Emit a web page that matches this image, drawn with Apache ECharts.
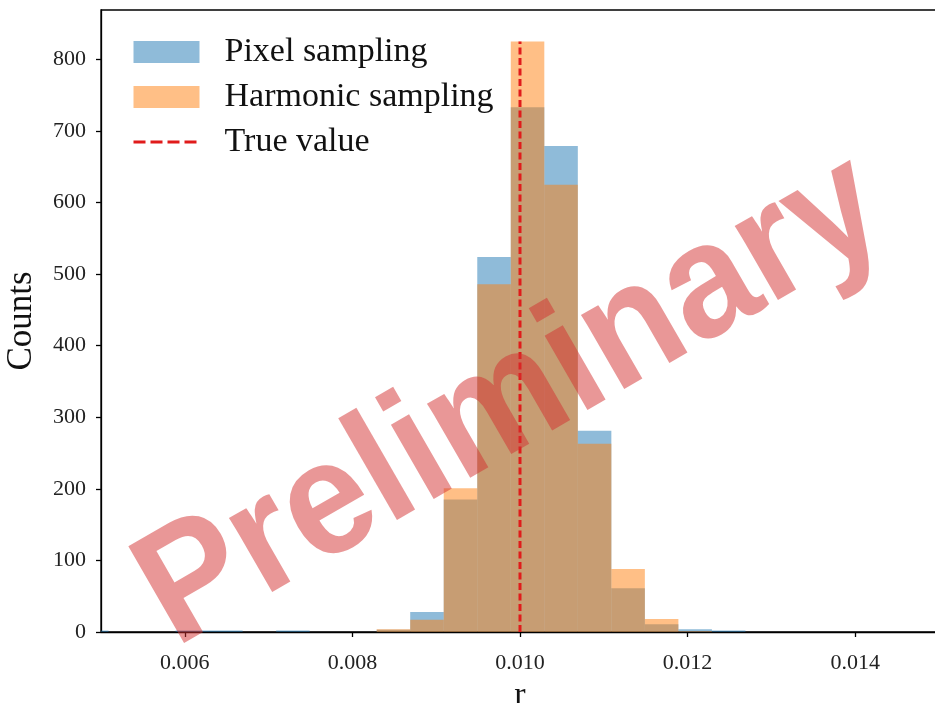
<!DOCTYPE html>
<html>
<head>
<meta charset="utf-8">
<script src="https://cdn.jsdelivr.net/npm/echarts@6/dist/echarts.min.js"></script>
<style>
  html, body { margin: 0; padding: 0; background: #fff; }
  #chart { width: 935px; height: 703px; }
</style>
</head>
<body>
<div id="chart"></div>
<script>
// histogram bins (edges in r) and counts per bin
const binEdges = [0.00469, 0.00509, 0.00549, 0.00589, 0.00629, 0.00669, 0.00709,
  0.00749, 0.00789, 0.00829, 0.00869, 0.00909, 0.00949, 0.00989, 0.01029,
  0.01069, 0.01109, 0.01149, 0.01189, 0.01229, 0.01269];
const pixelCounts = [2, 0, 0, 2, 2, 0, 2, 0, 0, 3, 28, 185, 524, 733, 679, 281, 61, 11, 4, 2];
const harmonicCounts = [0, 0, 0, 0, 0, 0, 0, 0, 0, 4, 17, 201, 486, 825, 625, 263, 88, 18, 1, 0];
const trueValue = 0.010;
const trueLineTop = 825;
const xTicks = [0.006, 0.008, 0.010, 0.012, 0.014];
const yTicks = [0, 100, 200, 300, 400, 500, 600, 700, 800];

const toBins = (counts) => counts.map((c, i) => [binEdges[i], binEdges[i + 1], c]);

const renderBins = (params, api) => {
  const count = api.value(2);
  if (!count) {
    return;
  }
  const p0 = api.coord([api.value(0), 0]);
  const p1 = api.coord([api.value(1), count]);
  const cs = params.coordSys;
  const shape = echarts.graphic.clipRectByRect(
    {x: p0[0], y: p1[1], width: p1[0] - p0[0], height: p0[1] - p1[1]},
    {x: cs.x, y: cs.y, width: cs.width, height: cs.height}
  );
  return shape && {type: 'rect', shape: shape, style: api.style()};
};

const serif = 'Liberation Serif';
const axisCommon = {
  axisLine: {show: true, lineStyle: {color: '#000', width: 1.3}},
  axisTick: {show: true, inside: false, length: 5, lineStyle: {color: '#000', width: 1.3}},
  splitLine: {show: false},
};

const chart = echarts.init(document.getElementById('chart'));
const option = {
  backgroundColor: '#fff',
  animation: false,
  grid: {
    left: 101, right: -4, top: 10, bottom: 71,
    show: true, borderColor: '#000', borderWidth: 1.3,
    outerBoundsMode: 'none'
  },
  legend: {
    orient: 'vertical',
    left: 132,
    top: 35,
    padding: 0,
    itemWidth: 66,
    itemHeight: 22,
    itemGap: 11,
    textStyle: {fontFamily: serif, fontSize: 34, color: '#111', padding: [0, 0, 0, 20]},
    data: [
      {name: 'Pixel sampling', icon: 'rect'},
      {name: 'Harmonic sampling', icon: 'rect'},
      {name: 'True value', itemStyle: {opacity: 0}, lineStyle: {width: 3, type: [12, 5]}}
    ]
  },
  xAxis: {
    type: 'value',
    min: 0.005,
    max: 0.015,
    name: 'r',
    nameLocation: 'middle',
    nameGap: 42,
    nameTextStyle: {fontFamily: serif, fontSize: 34, color: '#111'},
    ...axisCommon,
    axisTick: {...axisCommon.axisTick, customValues: xTicks},
    axisLabel: {
      customValues: xTicks,
      margin: 20,
      fontFamily: serif, fontSize: 22, color: '#222',
      formatter: (v) => v.toFixed(3)
    }
  },
  yAxis: {
    type: 'value',
    min: 0,
    max: 869,
    name: 'Counts',
    nameLocation: 'middle',
    nameGap: 62,
    nameTextStyle: {fontFamily: serif, fontSize: 35, color: '#111'},
    ...axisCommon,
    axisTick: {...axisCommon.axisTick, customValues: yTicks},
    axisLabel: {
      customValues: yTicks,
      margin: 15,
      fontFamily: serif, fontSize: 22, color: '#222'
    }
  },
  series: [
    {
      name: 'Pixel sampling',
      type: 'custom',
      renderItem: renderBins,
      encode: {x: [0, 1], y: 2},
      itemStyle: {color: 'rgba(31,119,180,0.5)'},
      data: toBins(pixelCounts)
    },
    {
      name: 'Harmonic sampling',
      type: 'custom',
      renderItem: renderBins,
      encode: {x: [0, 1], y: 2},
      itemStyle: {color: 'rgba(255,127,14,0.5)'},
      data: toBins(harmonicCounts)
    },
    {
      name: 'True value',
      type: 'line',
      symbol: 'none',
      z: 5,
      lineStyle: {color: '#e01b1b', width: 3, type: [7, 3.5]},
      itemStyle: {color: '#e01b1b'},
      data: [[trueValue, 0], [trueValue, trueLineTop]]
    }
  ],
  graphic: [
    {
      type: 'text',
      x: 512,
      y: 402,
      rotation: Math.PI / 6,
      scaleX: 0.94,
      z: 100,
      silent: true,
      style: {
        text: 'Preliminary',
        fontFamily: 'Liberation Sans',
        fontWeight: 'bold',
        fontSize: 162,
        fill: 'rgba(211,47,47,0.5)',
        align: 'center',
        verticalAlign: 'middle'
      }
    }
  ]
};
option && chart.setOption(option);
</script>
</body>
</html>
